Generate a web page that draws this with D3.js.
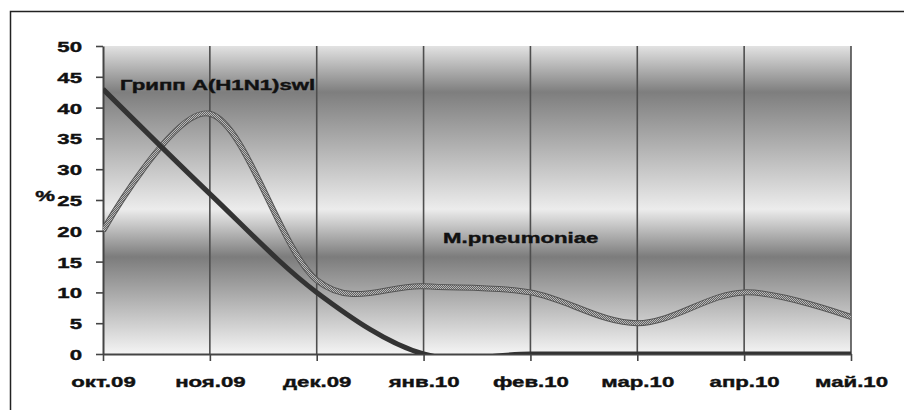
<html>
<script src="https://cdnjs.cloudflare.com/ajax/libs/d3/7.8.5/d3.min.js"></script>
<style>
  body { margin: 0; background: #fff; }
  text { font-family: Arial, "Liberation Sans", sans-serif; font-weight: bold; fill: #111; }
</style>
<body>
<svg width="904" height="410"></svg>
<script>
// data
var months = ["окт.09", "ноя.09", "дек.09", "янв.10", "фев.10", "мар.10", "апр.10", "май.10"];
var flu = [43, 26, 10, 0, 0, 0, 0, 0];
var myco = [20, 39, 12, 11, 10, 5, 10, 6];
var yTicks = [0, 5, 10, 15, 20, 25, 30, 35, 40, 45, 50];

var svg = d3.select("svg");
var plotL = 103, plotR = 851, plotT = 46, plotB = 354;
var sx = 1.48; // text in the picture is stretched sideways
var fs = 15;

var x = d3.scalePoint().domain(months).range([plotL, plotR]);
var y = d3.scaleLinear().domain([0, 50]).range([plotB, plotT]);

// outer frame
svg.append("rect").attr("x", 10.5).attr("y", 11.5).attr("width", 1000).attr("height", 1000)
  .attr("fill", "none").attr("stroke", "#222").attr("stroke-width", 1.5);

var defs = svg.append("defs");
var grad = defs.append("linearGradient").attr("id", "bg").attr("x1", 0).attr("y1", 0).attr("x2", 0).attr("y2", 1);
[[0, "#e2e2e2"], [0.15, "#7e7e7e"], [0.53, "#ececec"], [0.685, "#7c7c7c"], [1, "#f4f4f4"]].forEach(function(s) {
  grad.append("stop").attr("offset", s[0]).attr("stop-color", s[1]);
});
var pat = defs.append("pattern").attr("id", "dots").attr("patternUnits", "userSpaceOnUse")
  .attr("width", 2).attr("height", 2);
pat.append("rect").attr("width", 2).attr("height", 2).attr("fill", "#626262");
pat.append("rect").attr("width", 1).attr("height", 1).attr("fill", "#b8b8b8");
pat.append("rect").attr("x", 1).attr("y", 1).attr("width", 1).attr("height", 1).attr("fill", "#b8b8b8");
defs.append("clipPath").attr("id", "clip").append("rect")
  .attr("x", plotL).attr("y", plotT - 10).attr("width", plotR - plotL).attr("height", plotB - plotT + 10);

svg.append("rect").attr("x", plotL).attr("y", plotT).attr("width", plotR - plotL).attr("height", plotB - plotT)
  .attr("fill", "url(#bg)");

// vertical grid at each month
svg.append("g").selectAll("line").data(months.slice(1)).enter().append("line")
  .attr("x1", function(d) { return x(d); }).attr("x2", function(d) { return x(d); })
  .attr("y1", plotT).attr("y2", plotB)
  .attr("stroke", "#4e4e4e").attr("stroke-width", 1.6);

// axes
var yAxis = svg.append("g").attr("transform", "translate(" + plotL + ",0)")
  .call(d3.axisLeft(y).tickValues(yTicks).tickSize(7).tickSizeOuter(0));
var xAxis = svg.append("g").attr("transform", "translate(0," + plotB + ")")
  .call(d3.axisBottom(x).tickSize(7).tickSizeOuter(0));
[yAxis, xAxis].forEach(function(a) {
  a.selectAll("path, line").attr("stroke", "#444").attr("stroke-width", 1.6);
  a.select(".domain").attr("stroke-width", 2);
  a.selectAll("text").attr("font-size", fs).attr("font-weight", "bold")
    .attr("font-family", "Arial, 'Liberation Sans', sans-serif").attr("fill", "#111")
    .attr("stroke", "#111").attr("stroke-width", 0.4);
});
yAxis.selectAll(".tick text").attr("x", 0).attr("dy", "0.36em")
  .attr("transform", "translate(-21,0) scale(" + sx + ",1)");
xAxis.selectAll(".tick text").attr("y", 0).attr("dy", 0)
  .attr("transform", "translate(0,33) scale(" + sx + ",1)");

function label(t, px, py, anchor) {
  svg.append("text").attr("transform", "translate(" + px + "," + py + ") scale(" + sx + ",1)")
    .attr("text-anchor", anchor || "start").attr("font-size", fs)
    .attr("stroke", "#111").attr("stroke-width", 0.4).text(t);
}
label("%", 55, 201, "end");

// series
var line = d3.line().x(function(d, i) { return x(months[i]); }).y(function(d) { return y(d); })
  .curve(d3.curveCardinal.tension(0));
var plot = svg.append("g").attr("clip-path", "url(#clip)");
plot.append("path").datum(myco).attr("d", line).attr("fill", "none")
  .attr("stroke", "#555").attr("stroke-width", 6);
plot.append("path").datum(myco).attr("d", line).attr("fill", "none")
  .attr("stroke", "url(#dots)").attr("stroke-width", 4);
plot.append("path").datum(flu).attr("d", line).attr("fill", "none")
  .attr("stroke", "#333").attr("stroke-width", 5);

label("Грипп A(H1N1)swl", 120, 90);
label("M.pneumoniae", 443, 243);
</script>
</body>
</html>
